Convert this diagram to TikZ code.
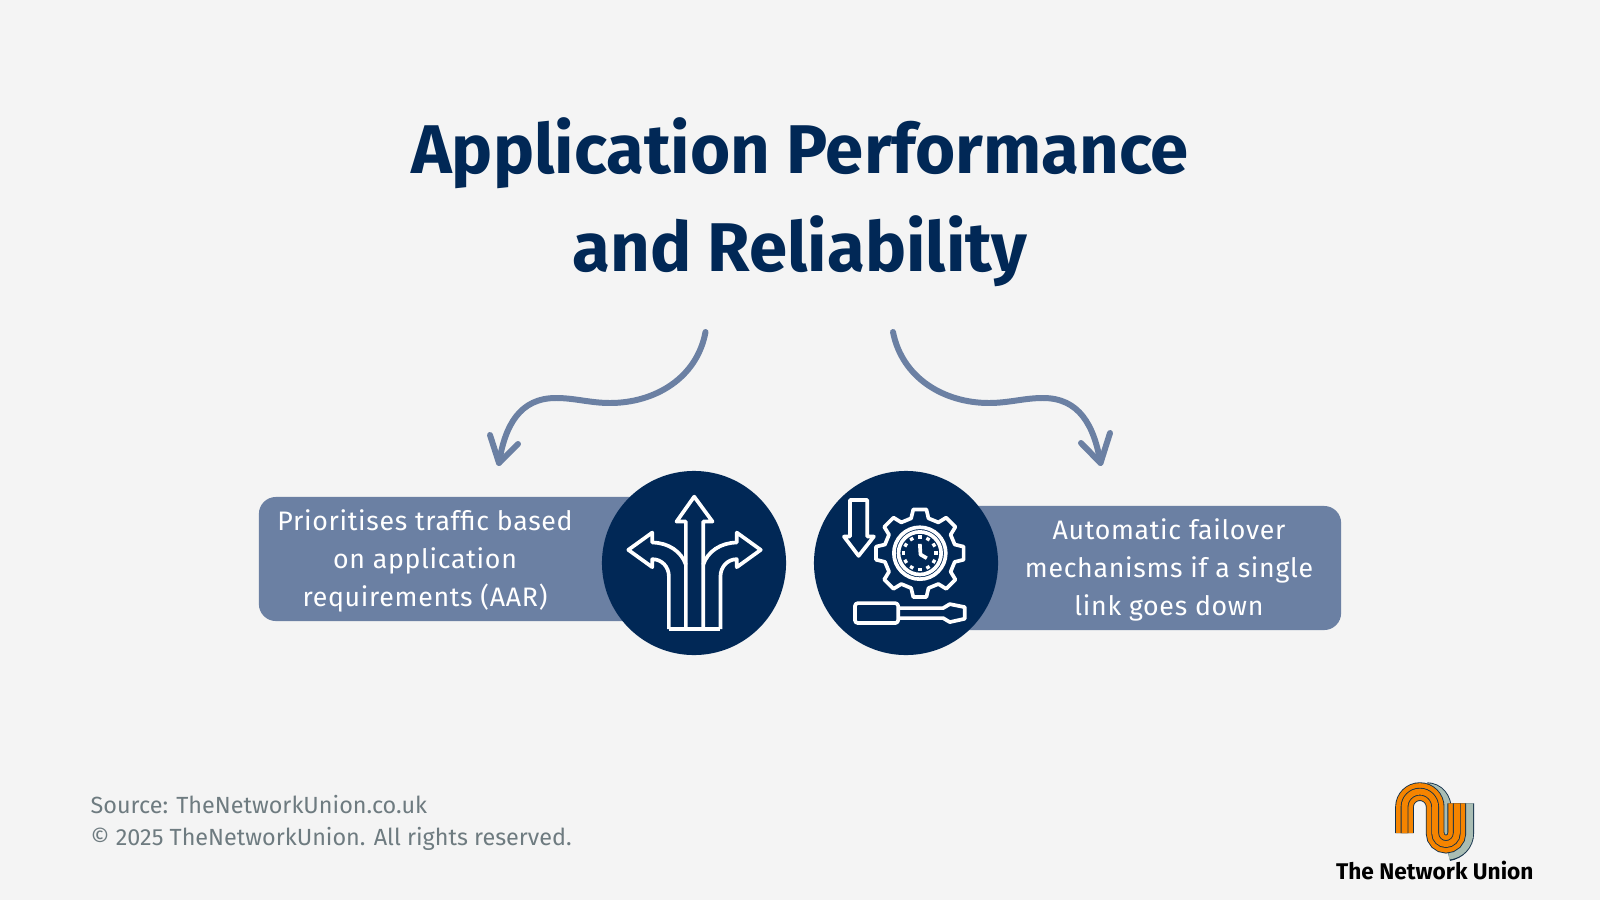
\documentclass[tikz,border=0pt]{standalone}
\usepackage{fontspec}
\setmainfont{Fira Sans}
\newfontfamily\boxfont[LetterSpace=2.6]{Fira Sans}
\definecolor{pagegrey}{HTML}{F4F4F4}
\definecolor{navy}{HTML}{012856}
\definecolor{slate}{HTML}{6B80A3}
\definecolor{footgrey}{HTML}{6E7B80}
\definecolor{logoorange}{HTML}{F58400}
\definecolor{logosage}{HTML}{A9BDB4}
\definecolor{logodark}{HTML}{12304A}
\tikzset{
	infobox/.style={fill=slate,rounded corners=0.17cm,minimum height=1.24cm,inner sep=0pt},
	badge/.style={circle,fill=navy,minimum size=1.84cm,inner sep=0pt},
	boxtext/.style={text=white,align=center,font=\boxfont\fontsize{7.6}{10.8}\selectfont},
	curvearrow/.style={slate,line width=1.7pt,line cap=round,line join=round},
	icon/.style={white,line width=1.05pt,line join=round},
}
\begin{document}
\begin{tikzpicture}[x=0.01cm,y=-0.01cm]
	\fill[pagegrey] (0,0) rectangle (1600,900);
	\useasboundingbox (0,0) rectangle (1600,900);

	\node[text=navy,align=center,font=\fontsize{19.6}{28}\selectfont\bfseries] (title) at (800,202) {Application Performance\\and Reliability};

	% arrows
	\coordinate (leftstart) at (705.5,332);
	\coordinate (lefttip) at (499,463);
	\coordinate (rightstart) at (893,332);
	\coordinate (righttip) at (1100.5,463);
	\draw[curvearrow] (leftstart) .. controls (697,378) and (655,403) .. (610,403) .. controls (590,403) and (575,398) .. (556,398) .. controls (520,398) and (505,425) .. (lefttip);
	\draw[curvearrow] (490,435) -- (lefttip) -- (518,444);
	\draw[curvearrow] (rightstart) .. controls (902,378) and (944,403) .. (989,403) .. controls (1009,403) and (1024,398) .. (1043,398) .. controls (1079,398) and (1094,425) .. (righttip);
	\draw[curvearrow] (1110,433) -- (righttip) -- (1081,443);

	% boxes
	\node[infobox,minimum width=4.4cm] (leftbox) at (479,559) {};
	\node[infobox,minimum width=4.4cm] (rightbox) at (1121,568) {};
	\node[badge] (routebadge) at (694,563) {};
	\node[badge] (gearbadge) at (906,563) {};
	\node[boxtext] (lefttext) at (425,561) {Prioritises traffic based\\on application\\requirements (AAR)};
	\node[boxtext] (righttext) at (1169,570) {Automatic failover\\mechanisms if a single\\link goes down};

	% route icon
	\begin{scope}[shift={(600,470)},x=0.00333cm,y=-0.00333cm]
		\draw[icon] (258,478) -- (258,155) -- (230,155) -- (283,80) -- (338,155) -- (310,155) -- (310,478);
		\draw[icon] (207,478) -- (362,478);
		\draw[icon] (207,478) -- (207,320) .. controls (207,290) and (185,268) .. (157,268) -- (157,292) -- (85,240) -- (157,188) -- (157,218) .. controls (205,218) and (245,245) .. (258,285);
		\draw[icon] (362,478) -- (362,320) .. controls (362,290) and (384,268) .. (411,268) -- (411,292) -- (483,240) -- (411,188) -- (411,218) .. controls (363,218) and (323,245) .. (310,285);
	\end{scope}

	% gear icon
	\begin{scope}[shift={(810,470)},x=0.00333cm,y=-0.00333cm]
		\draw[icon] (120,90) -- (172,90) -- (172,200) -- (192,200) -- (146,258) -- (102,200) -- (120,200) -- cycle;
		\begin{scope}[shift={(330,250)}]
			\draw[icon] (-14:108) foreach \a in {0,45,...,315} {
				-- (\a-14:108) -- (\a-8.5:133) -- (\a+8.5:133) -- (\a+14:108)
			} -- cycle;
			\draw[icon] (0,0) circle (78);
			\draw[icon] (0,0) circle (64);
			\foreach \a in {0,30,...,330}
				\draw[icon] (\a:54) -- (\a:44);
			\draw[icon] (0,-28) -- (2,4) -- (21,15);
		\end{scope}
		\draw[icon,rounded corners=0.03cm] (135,400) rectangle (265,460);
		\draw[icon] (265,415) -- (400,415) -- (420,403) -- (465,412) -- (465,447) -- (420,457) -- (400,445) -- (265,445);
	\end{scope}

	% footer
	\node[anchor=west,inner sep=0pt,text=footgrey,align=left,font=\fontsize{6.65}{9.3}\selectfont] (footer) at (90,823) {Source: TheNetworkUnion.co.uk\\© 2025 TheNetworkUnion. All rights reserved.};

	% logo
	\begin{scope}[shift={(1320,770)},x=0.00333cm,y=-0.00333cm]
		\draw[logodark,line width=4.5pt] (439,100) -- (439,190) .. controls (439,222) and (415,245) .. (385,250);
		\draw[logosage,line width=4pt] (439,100) -- (439,190) .. controls (439,222) and (415,245) .. (385,248);
		\draw[logodark,line width=5.3pt] (320,65) .. controls (350,65) and (368,90) .. (368,120) -- (368,210);
		\draw[logosage,line width=4.8pt] (320,65) .. controls (350,65) and (368,90) .. (368,120) -- (368,215);
		\foreach \w/\c in {5.3pt/logodark,4.8pt/logoorange,2.2pt/logodark,1.7pt/logoorange}
			\draw[\c,line width=\w] (254,190) -- (254,111) .. controls (254,85.6) and (274.6,65) .. (300,65) .. controls (325.4,65) and (346,85.6) .. (346,111) -- (346,190) .. controls (346,208) and (360.6,222.5) .. (378.5,222.5) .. controls (396.4,222.5) and (411,208) .. (411,190) -- (411,100);
		\node[text=black,font=\fontsize{6.45}{8}\selectfont\bfseries] (logotext) at (345,302) {The Network Union};
	\end{scope}
\end{tikzpicture}
\end{document}
